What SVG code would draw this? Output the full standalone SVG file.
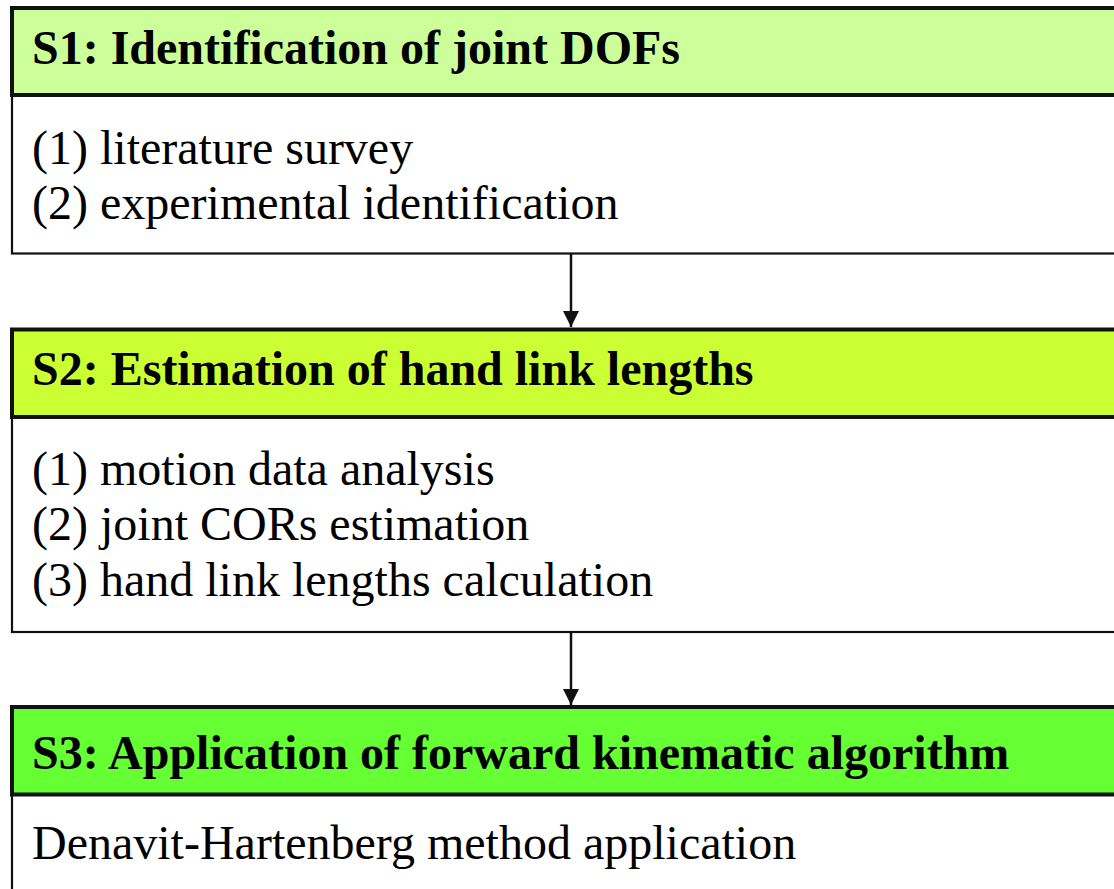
<svg xmlns="http://www.w3.org/2000/svg" width="1114" height="889" viewBox="0 0 1114 889">
  <style>
    .head { stroke: #111; stroke-width: 4; }
    .body { fill: #fff; stroke: #111; stroke-width: 2.2; }
    .title { font-family: "Liberation Serif", "Times New Roman", serif; font-size: 48px; font-weight: bold; fill: #000; }
    .item { font-family: "Liberation Serif", "Times New Roman", serif; font-size: 48px; fill: #000; }
    .link { stroke: #111; stroke-width: 2.5; fill: none; }
  </style>
  <defs>
    <marker id="arrow" markerUnits="userSpaceOnUse" markerWidth="18" markerHeight="16" refX="16" refY="8" orient="auto">
      <path d="M0,0 L16,8 L0,16 Z" fill="#111"/>
    </marker>
  </defs>
  <rect width="1114" height="889" fill="#fff"/>

  <!-- connectors between stages -->
  <g id="connectors">
    <line class="link" x1="571" y1="254" x2="571" y2="327" marker-end="url(#arrow)"/>
    <line class="link" x1="571" y1="633" x2="571" y2="705" marker-end="url(#arrow)"/>
  </g>

  <!-- stage 1 -->
  <g id="s1">
    <rect class="body" x="12" y="95" width="1120" height="158.5"/>
    <rect class="head" x="12" y="8" width="1120" height="87" fill="#CCFF99"/>
    <text class="title" x="32" y="64">S1: Identification of joint DOFs</text>
    <text class="item" x="32" y="164">(1) literature survey</text>
    <text class="item" x="32" y="219">(2) experimental identification</text>
  </g>

  <!-- stage 2 -->
  <g id="s2">
    <rect class="body" x="12" y="417" width="1120" height="215"/>
    <rect class="head" x="12" y="329.5" width="1120" height="87.5" fill="#CCFF33"/>
    <text class="title" x="32" y="385">S2: Estimation of hand link lengths</text>
    <text class="item" x="32" y="485">(1) motion data analysis</text>
    <text class="item" x="32" y="540">(2) joint CORs estimation</text>
    <text class="item" x="32" y="596">(3) hand link lengths calculation</text>
  </g>

  <!-- stage 3 -->
  <g id="s3">
    <rect class="body" x="12" y="794.5" width="1120" height="120"/>
    <rect class="head" x="12" y="707" width="1120" height="87.5" fill="#66FF33"/>
    <text class="title" x="32" y="769">S3: Application of forward kinematic algorithm</text>
    <text class="item" x="32" y="859">Denavit-Hartenberg method application</text>
  </g>
</svg>
